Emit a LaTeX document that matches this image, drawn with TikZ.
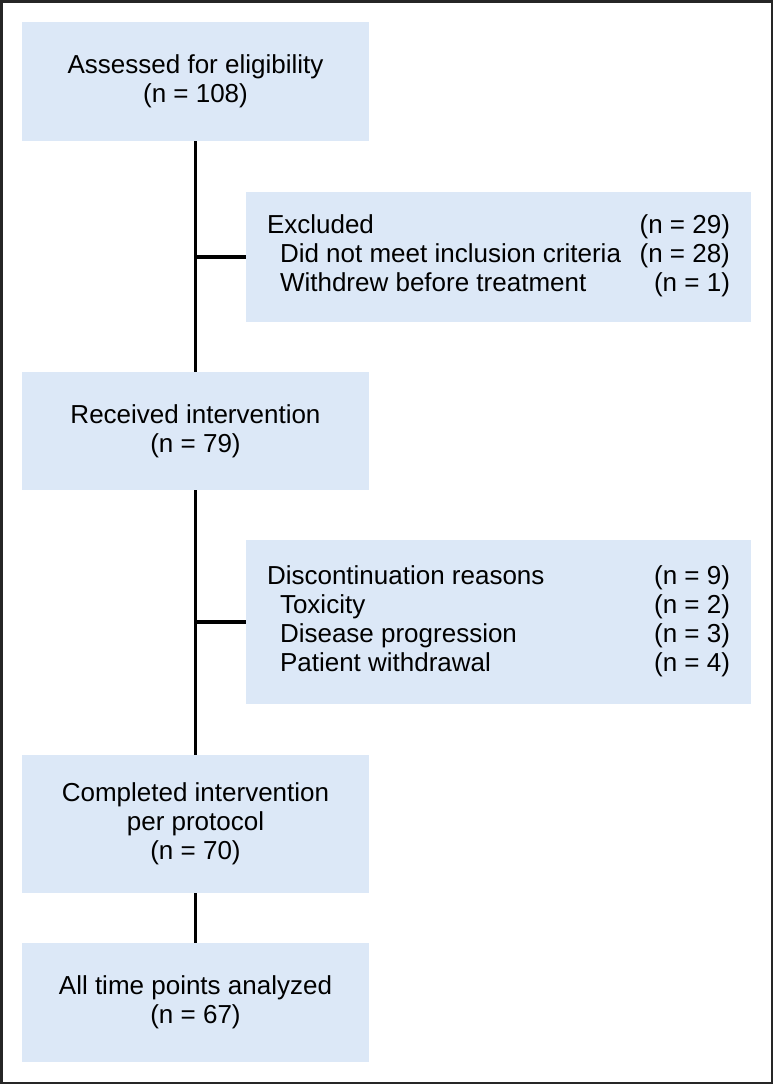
\documentclass[tikz,border=0pt]{standalone}
\usepackage{fontspec}
\setmainfont{Liberation Sans}
\definecolor{boxblue}{RGB}{220,232,247}
\begin{document}
\begin{tikzpicture}[x=0.5pt,y=-0.5pt,
  box/.style={fill=boxblue, inner sep=0pt, align=center, font=\fontsize{13}{14.5}\selectfont},
  link/.style={line width=1.75pt, black}]
\useasboundingbox (0,0) rectangle (773,1084);
\draw[line width=1.25pt, black!85] (1.25,1.25) rectangle (771.75,1082.75);

\node[box, minimum width=173.5pt, minimum height=59.5pt] (b1) at (195.5,81.5)
  {Assessed for eligibility\\(n = 108)};
\node[box, minimum width=252.5pt, minimum height=65pt] (b2) at (498.5,257)
  {\begin{tabular*}{231.5pt}{@{}l@{\extracolsep{\fill}}r@{}}
   Excluded & (n = 29)\\
   \hspace{6.5pt}Did not meet inclusion criteria & (n = 28)\\
   \hspace{6.5pt}Withdrew before treatment & (n = 1)
   \end{tabular*}};
\node[box, minimum width=173.5pt, minimum height=59pt] (b3) at (195.5,431)
  {Received intervention\\(n = 79)};
\node[box, minimum width=252.5pt, minimum height=82pt] (b4) at (498.5,622)
  {\begin{tabular*}{231.5pt}{@{}l@{\extracolsep{\fill}}r@{}}
   Discontinuation reasons & (n = 9)\\
   \hspace{6.5pt}Toxicity & (n = 2)\\
   \hspace{6.5pt}Disease progression & (n = 3)\\
   \hspace{6.5pt}Patient withdrawal & (n = 4)
   \end{tabular*}};
\node[box, minimum width=173.5pt, minimum height=69pt] (b5) at (195.5,824)
  {Completed intervention\\per protocol\\(n = 70)};
\node[box, minimum width=173.5pt, minimum height=59.5pt] (b6) at (195.5,1002.5)
  {All time points analyzed\\(n = 67)};

\draw[link] (b1.south) -- (b3.north);
\draw[link] (b2.west -| b1.south) -- (b2.west);
\draw[link] (b3.south) -- (b5.north);
\draw[link] (b4.west -| b3.south) -- (b4.west);
\draw[link] (b5.south) -- (b6.north);
\end{tikzpicture}
\end{document}
